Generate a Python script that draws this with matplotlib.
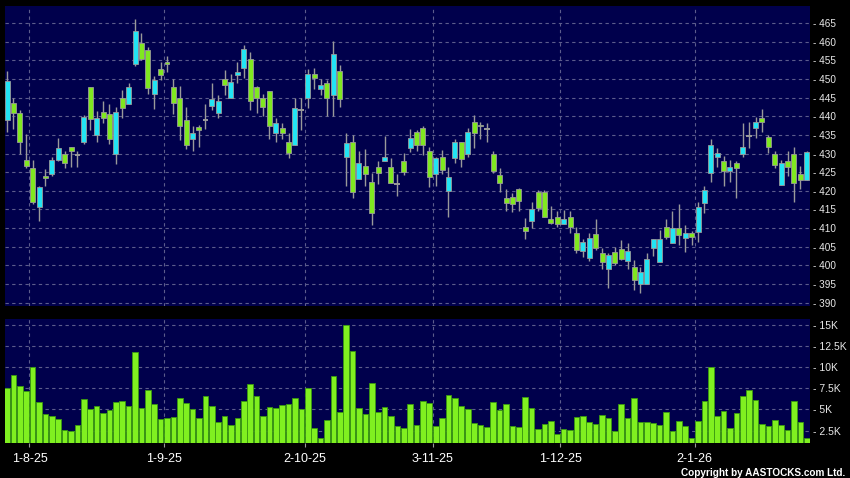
import numpy as np
import matplotlib
matplotlib.use("Agg")
import matplotlib.pyplot as plt

plt.rcParams['font.family'] = ['Liberation Sans', 'DejaVu Sans']

# daily OHLC, one entry per trading day (28-7-25 .. 27-1-26)
opens = [439.1, 443.5, 440.9, 428.2, 426.1, 415.8, 424.1, 424.5, 428.3, 429.9,
         431.7, 429.7, 433.0, 447.8, 435.0, 441.1, 440.6, 429.8, 444.8, 443.3,
         454.0, 459.8, 457.7, 445.9, 452.8, 454.5, 448.0, 444.8, 438.9, 433.9,
         437.1, 438.9, 442.9, 441.0, 450.0, 444.9, 451.0, 452.9, 455.3, 447.8,
         444.9, 446.9, 435.5, 436.8, 433.0, 432.2, 441.7, 444.9, 451.3, 447.3,
         448.9, 445.6, 452.2, 429.0, 433.0, 423.1, 426.8, 422.5, 426.5, 427.9,
         426.5, 421.8, 428.0, 431.6, 435.9, 436.8, 430.8, 424.5, 429.0, 420.0,
         428.8, 433.0, 429.9, 438.6, 437.8, 436.6, 429.8, 424.3, 418.0, 418.3,
         420.5, 410.3, 412.0, 419.8, 419.8, 412.4, 412.9, 411.2, 413.1, 408.6,
         403.9, 402.1, 408.4, 403.3, 399.0, 403.6, 404.4, 401.3, 399.5, 395.0,
         395.0, 404.6, 400.9, 410.4, 406.0, 410.0, 407.3, 408.6, 408.9, 416.7,
         424.7, 429.0, 428.1, 425.4, 427.6, 429.8, 434.8, 436.8, 439.5, 434.4,
         429.8, 421.5, 428.1, 429.8, 424.5, 423.0]
highs = [452.2, 444.9, 441.7, 435.3, 428.3, 421.4, 425.8, 429.0, 434.3, 430.6,
         431.7, 430.7, 440.4, 447.8, 441.5, 444.2, 443.3, 442.6, 447.1, 448.9,
         466.2, 462.3, 458.6, 450.9, 454.5, 456.1, 450.0, 448.2, 442.5, 437.5,
         437.6, 443.3, 448.9, 445.6, 452.5, 451.4, 454.6, 459.2, 457.2, 448.2,
         446.0, 446.9, 439.5, 438.2, 435.5, 444.9, 444.9, 452.7, 452.9, 450.0,
         449.8, 460.3, 453.8, 435.5, 435.0, 430.6, 431.3, 424.7, 427.9, 434.8,
         428.8, 424.6, 430.1, 436.6, 436.4, 437.3, 431.9, 429.2, 431.0, 426.4,
         433.9, 433.0, 436.8, 440.4, 438.6, 438.2, 430.7, 426.1, 420.5, 419.4,
         420.7, 412.7, 416.9, 420.3, 420.1, 416.0, 414.7, 414.9, 414.7, 410.2,
         407.0, 408.6, 412.5, 404.8, 403.3, 404.9, 406.7, 406.0, 401.5, 399.7,
         403.3, 407.0, 409.5, 412.5, 414.7, 416.5, 410.9, 409.1, 416.9, 421.4,
         433.9, 431.6, 429.4, 428.3, 428.1, 438.2, 438.6, 439.8, 441.9, 435.0,
         430.8, 428.3, 430.6, 431.7, 426.7, 430.6]
lows = [435.7, 436.6, 429.9, 426.1, 416.5, 411.8, 421.4, 423.9, 428.1, 426.1,
        426.5, 426.3, 432.6, 436.4, 433.0, 438.3, 432.6, 427.2, 439.5, 443.3,
        453.6, 455.2, 446.0, 441.9, 449.8, 451.8, 440.6, 433.7, 431.2, 430.8,
        431.9, 436.6, 441.6, 439.5, 445.8, 444.9, 448.9, 450.2, 441.6, 441.0,
        440.1, 433.9, 433.2, 433.9, 428.8, 432.2, 436.2, 442.2, 447.3, 445.8,
        440.1, 440.0, 442.4, 421.4, 418.2, 423.1, 421.4, 410.9, 421.9, 427.9,
        422.2, 418.5, 424.3, 430.3, 430.8, 429.7, 421.0, 421.4, 424.6, 413.1,
        427.6, 426.5, 429.0, 431.6, 433.9, 433.2, 424.9, 419.8, 414.7, 414.2,
        414.7, 407.0, 410.0, 414.5, 412.9, 411.2, 410.4, 411.2, 408.6, 403.3,
        402.2, 401.3, 404.0, 399.0, 393.9, 400.2, 401.5, 399.0, 393.4, 392.7,
        395.0, 402.6, 400.9, 407.0, 406.0, 405.5, 403.7, 405.5, 406.4, 414.0,
        422.5, 426.5, 421.2, 422.5, 418.0, 429.0, 431.5, 434.1, 435.9, 430.1,
        426.1, 421.5, 424.0, 417.1, 420.5, 423.0]
closes = [449.5, 440.9, 433.0, 426.8, 416.9, 421.0, 423.5, 428.2, 431.5, 427.4,
          430.6, 429.7, 439.8, 439.3, 439.5, 439.5, 433.9, 441.1, 442.2, 448.0,
          462.9, 455.3, 447.6, 449.7, 451.0, 454.1, 443.5, 437.5, 432.2, 435.5,
          436.2, 438.9, 444.6, 444.0, 448.3, 449.3, 451.9, 458.0, 444.2, 444.9,
          442.5, 437.3, 438.2, 435.5, 430.1, 442.2, 441.7, 451.3, 450.2, 448.4,
          444.9, 456.7, 444.6, 432.8, 419.8, 427.6, 424.5, 414.0, 424.9, 429.0,
          422.2, 421.8, 425.0, 434.1, 432.2, 432.2, 423.7, 428.7, 425.5, 423.7,
          433.0, 428.5, 435.9, 435.5, 437.3, 436.6, 425.2, 422.1, 416.7, 416.5,
          417.4, 409.1, 415.1, 415.4, 413.1, 411.5, 411.2, 412.4, 410.3, 404.2,
          406.2, 407.3, 404.6, 401.0, 402.7, 400.6, 401.7, 403.9, 396.0, 398.2,
          401.7, 407.0, 407.0, 407.5, 410.0, 408.2, 408.6, 407.6, 415.6, 420.3,
          432.4, 430.1, 425.4, 426.5, 426.1, 431.7, 434.8, 438.6, 438.4, 431.7,
          426.9, 427.4, 426.4, 422.1, 423.0, 430.4]
# volume in thousands of shares
volumes = [7.57, 9.02, 7.77, 7.18, 10.05, 5.88, 4.43, 4.23, 3.88, 2.58,
           2.50, 3.17, 6.23, 5.05, 5.45, 4.62, 4.98, 5.92, 6.00, 5.41,
           11.74, 5.13, 7.29, 5.64, 3.84, 3.99, 4.11, 6.39, 5.80, 5.02,
           4.03, 6.63, 5.45, 3.52, 4.27, 3.17, 4.03, 6.00, 8.00, 6.59,
           4.27, 5.29, 5.21, 5.57, 5.64, 6.31, 5.02, 7.57, 2.81, 1.64,
           3.76, 8.91, 4.70, 14.96, 11.85, 5.17, 4.43, 8.16, 4.70, 5.33,
           4.23, 3.09, 2.78, 5.60, 3.21, 6.04, 5.72, 3.05, 3.99, 6.71,
           6.35, 5.37, 5.09, 3.36, 3.13, 2.97, 5.88, 4.94, 5.64, 3.01,
           2.93, 6.43, 5.17, 2.70, 3.29, 3.64, 2.11, 2.70, 2.54, 4.07,
           4.27, 3.48, 3.29, 4.31, 3.99, 2.46, 5.64, 3.95, 6.35, 3.52,
           3.48, 3.36, 3.13, 4.66, 2.42, 3.64, 3.01, 1.64, 3.68, 6.04,
           10.01, 4.19, 4.82, 2.85, 4.58, 6.59, 7.29, 6.12, 3.29, 3.05,
           3.76, 3.13, 2.54, 6.04, 3.52, 1.67]
# first trading day of each month (index) and its label
month_start = [4, 25, 47, 67, 87, 108]
month_labels = ['1-8-25', '1-9-25', '2-10-25', '3-11-25', '1-12-25', '2-1-26']
price_ticks = list(range(390, 470, 5))
vol_ticks = [2.5, 5, 7.5, 10, 12.5, 15]

BG = '#000000'
PANEL = '#00004c'
GRID = '#5c5c8c'
UP = '#22e4f4'
DOWN = '#80e820'
WICK = '#9a9a9a'

o = np.array(opens)
h = np.array(highs)
l = np.array(lows)
c = np.array(closes)
v = np.array(volumes)
x = np.arange(len(o))

fig = plt.figure(figsize=(8.5, 4.78), dpi=100, facecolor=BG)
ax = fig.add_axes([0.0053, 0.3598, 0.9476, 0.6276])
axv = fig.add_axes([0.0053, 0.0726, 0.9476, 0.2594], sharex=ax)

for a in (ax, axv):
    a.set_facecolor(PANEL)
    for s in a.spines.values():
        s.set_visible(False)
    for m in month_start:
        a.axvline(m - 0.5, color=GRID, lw=0.8, ls=(0, (3, 3)), zorder=0)

for p in price_ticks:
    ax.axhline(p, color=GRID, lw=0.8, ls=(0, (3, 3)), zorder=0)
for t in vol_ticks:
    axv.axhline(t, color=GRID, lw=0.8, ls=(0, (3, 3)), zorder=0)

# candles
ax.vlines(x, l, h, color=WICK, lw=1, zorder=2)
is_doji = o == c
body_col = np.where(c > o, UP, DOWN)
bx = x[~is_doji]
ax.bar(bx, np.abs(c - o)[~is_doji], bottom=np.minimum(o, c)[~is_doji], width=0.78,
       color=body_col[~is_doji], edgecolor=WICK, linewidth=0.6, zorder=3)
ax.hlines(o[is_doji], x[is_doji] - 0.45, x[is_doji] + 0.45, color=WICK, lw=1.4, zorder=3)

ax.set_xlim(-0.4, 125.5)
ax.set_ylim(389.1, 469.6)
ax.yaxis.tick_right()
ax.set_yticks(price_ticks)
ax.set_yticklabels(['- %d' % p for p in price_ticks])
ax.tick_params(axis='y', length=0, pad=2.5, labelsize=7.2, colors='#e8e8e8')
ax.tick_params(axis='x', length=0, labelbottom=False)

# volume
axv.bar(x, v, width=0.88, color='#80f020', edgecolor='#3a9a10', linewidth=0.6, zorder=3)
axv.set_ylim(1.0, 15.63)
axv.yaxis.tick_right()
axv.set_yticks(vol_ticks)
axv.set_yticklabels(['- %gK' % t for t in vol_ticks])
axv.tick_params(axis='y', length=0, pad=2.5, labelsize=7.5, colors='#e8e8e8')
axv.set_xticks([m - 0.5 for m in month_start])
axv.set_xticklabels(month_labels)
axv.tick_params(axis='x', length=3, width=0.8, color='#9a9a9a', pad=4,
                labelsize=9, labelcolor='white')

fig.text(0.9945, 0.005, 'Copyright by AASTOCKS.com Ltd.', color='white',
         fontsize=7.2, fontweight='bold', ha='right', va='baseline')

fig.savefig('out.png', dpi=100, facecolor=BG)
